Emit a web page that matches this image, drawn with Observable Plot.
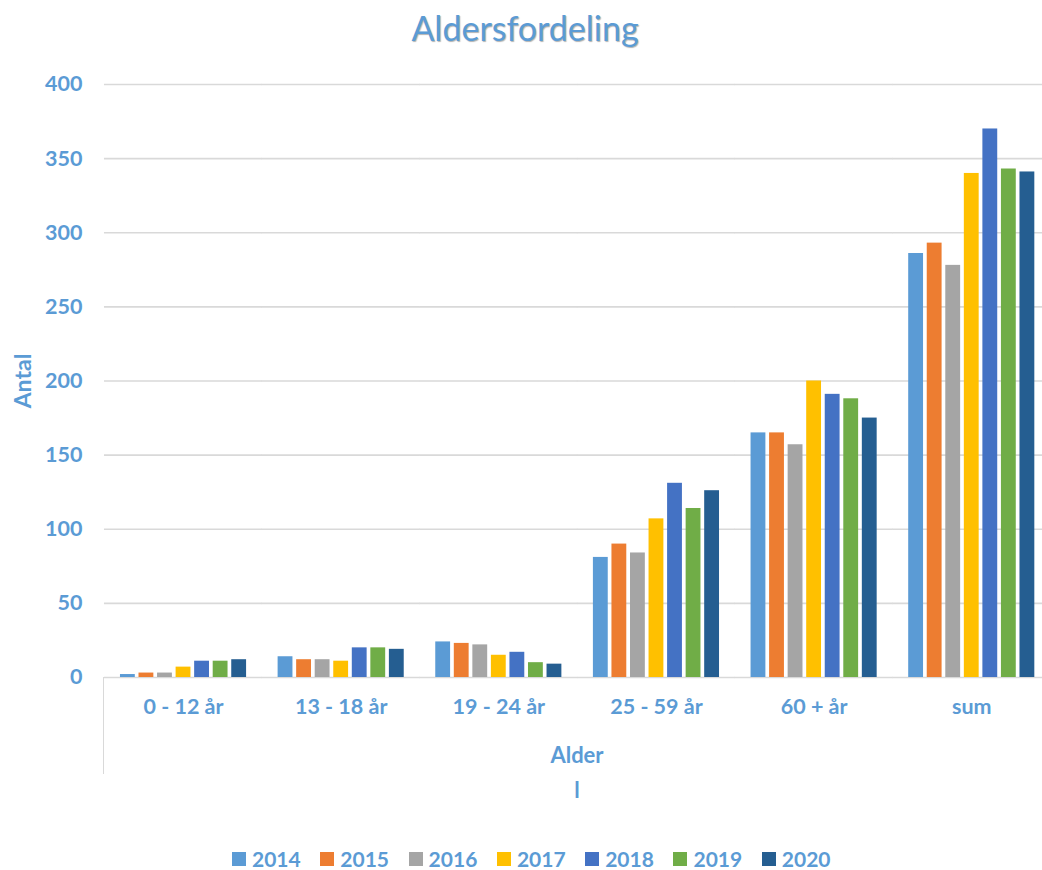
<!DOCTYPE html>
<html><head><meta charset="utf-8">
<script src="https://cdn.jsdelivr.net/npm/d3@7"></script>
<script src="https://cdn.jsdelivr.net/npm/@observablehq/plot@0.6"></script>
<style>
body{margin:0;background:#fff;font-family:Lato,"Open Sans",sans-serif;}
#wrap{position:relative;width:1042px;height:870px;overflow:hidden;color:#5B9BD5;}
#title{position:absolute;left:4px;top:0;width:1042px;height:56px;line-height:56px;text-align:center;font-size:34px;font-weight:normal;text-shadow:1px 1px 1px rgba(0,0,0,0.3);}
#chart{position:absolute;left:0;top:60px;}
.lbl{position:absolute;font-size:22px;font-weight:bold;white-space:nowrap;transform:translate(-50%,-50%);line-height:24px;}
#ylabel{left:22px;top:381px;font-size:23px;transform:translate(-50%,-50%) rotate(-90deg);}
#xlabel{left:577px;top:755px;}
#xmark{left:577px;top:790px;}
#xline{position:absolute;left:103px;top:677px;width:0;height:97px;border-left:1.5px solid #D9D9D9;}
#legend{position:absolute;left:0;top:849px;width:1042px;height:20px;display:flex;justify-content:flex-start;align-items:center;font-size:21px;line-height:20px;font-weight:bold;padding-left:232px;box-sizing:border-box;}
#legend .item{display:flex;align-items:center;width:88.3px;flex:none;height:20px;}
#legend .sw{width:14px;height:14px;margin-right:6px;}
</style></head><body>
<div id="wrap">
  <div id="title">Aldersfordeling</div>
  <div id="chart"></div>
  <div id="xline"></div>
  <div class="lbl" id="ylabel">Antal</div>
  <div class="lbl" id="xlabel">Alder</div>
  <div class="lbl" id="xmark">l</div>
  <div id="legend"></div>
</div>
<script>
const categories = ["0 - 12 år", "13 - 18 år", "19 - 24 år", "25 - 59 år", "60 + år", "sum"];
const years = ["2014", "2015", "2016", "2017", "2018", "2019", "2020"];
const colors = ["#5B9BD5", "#ED7D31", "#A5A5A5", "#FFC000", "#4472C4", "#70AD47", "#255E91"];
const v2014 = [2, 14, 24, 81, 165, 286];
const v2015 = [3, 12, 23, 90, 165, 293];
const v2016 = [3, 12, 22, 84, 157, 278];
const v2017 = [7, 11, 15, 107, 200, 340];
const v2018 = [11, 20, 17, 131, 191, 370];
const v2019 = [11, 20, 10, 114, 188, 343];
const v2020 = [12, 19, 9, 126, 175, 341];
const yTicks = [0, 50, 100, 150, 200, 250, 300, 350, 400];

const series = [v2014, v2015, v2016, v2017, v2018, v2019, v2020];
const data = [];
categories.forEach((c, i) => {
  years.forEach((y, j) => data.push({cat: c, year: y, value: series[j][i]}));
});

const chart = Plot.plot({
  width: 1042,
  height: 740,
  marginTop: 24,
  marginBottom: 123,
  marginLeft: 104,
  marginRight: 0,
  style: {fontFamily: "Lato, 'Open Sans', sans-serif", fontSize: "21.5px", fontWeight: "bold", color: "#5B9BD5", background: "transparent", overflow: "visible"},
  fx: {domain: categories, axis: "bottom", round: false, paddingInner: 0.2, paddingOuter: 0.075, align: 0.675, label: null, tickSize: 0, tickPadding: 21},
  x: {domain: years, axis: null, round: false, paddingInner: 0.2, paddingOuter: 0},
  y: {domain: [0, 400], ticks: yTicks, tickSize: 0, tickPadding: 38, label: null},
  color: {domain: years, range: colors},
  marks: [
    Plot.ruleY(yTicks, {stroke: "#D9D9D9", strokeWidth: 1.6, insetLeft: -16, insetRight: -16}),
    Plot.barY(data, {fx: "cat", x: "year", y: "value", fill: "year"})
  ]
});
document.getElementById("chart").appendChild(chart);

const legend = document.getElementById("legend");
years.forEach((y, j) => {
  const it = document.createElement("div");
  it.className = "item";
  const sw = document.createElement("div");
  sw.className = "sw";
  sw.style.background = colors[j];
  const t = document.createElement("span");
  t.textContent = y;
  it.appendChild(sw);
  it.appendChild(t);
  legend.appendChild(it);
});
</script>
</body></html>
